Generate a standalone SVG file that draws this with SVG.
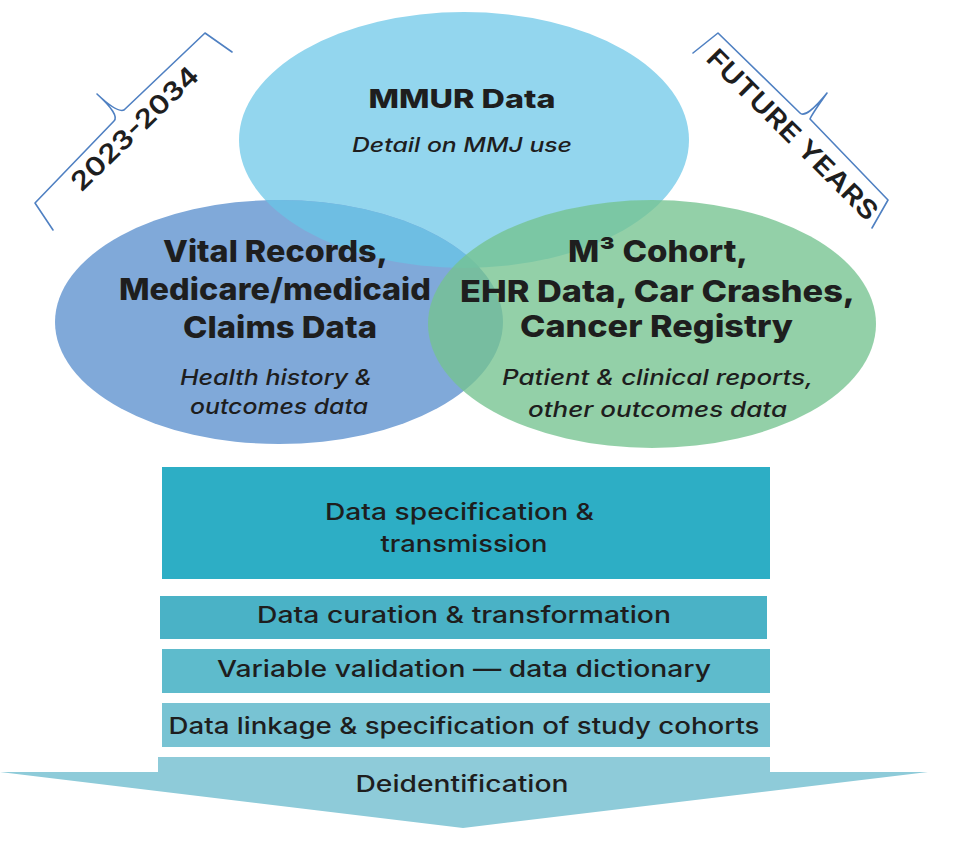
<svg xmlns="http://www.w3.org/2000/svg" width="971" height="842" viewBox="0 0 971 842">
  <defs>
    <clipPath id="clip-vital">
      <ellipse cx="279" cy="322" rx="224" ry="122"/>
    </clipPath>
    <style>
      .head { font-family: Inter, "DejaVu Sans", sans-serif; font-weight: 800; fill: #1e1e1e; text-anchor: middle; }
      .sub { font-family: Inter, "DejaVu Sans", sans-serif; font-style: italic; font-weight: 500; fill: #1e1e1e; text-anchor: middle; }
      .step { font-family: Inter, "DejaVu Sans", sans-serif; font-weight: 500; fill: #1e1e1e; text-anchor: middle; font-size: 23px; }
      .tag { font-family: Inter, "DejaVu Sans", sans-serif; font-weight: 600; fill: #1e1e1e; text-anchor: middle; font-size: 26px; }
      .brace { fill: none; stroke: #4f80c2; stroke-width: 1.6; stroke-linejoin: round; stroke-linecap: round; }
    </style>
  </defs>
  <rect width="971" height="842" fill="#ffffff"/>

  <!-- Period brackets -->
  <g id="bracket-2023">
    <path class="brace" d="M53,230 L35,203 L114,121 Q120,115 97,94 Q117,113 124,110 L205,33 L232,52"/>
    <text class="tag" x="141" y="135" transform="rotate(-44 141 135)" textLength="166" lengthAdjust="spacingAndGlyphs">2023-2034</text>
  </g>
  <g id="bracket-future">
    <path class="brace" d="M693,53 L718,33 L800,113 Q806,119 827,93 Q812,114 810,119 L888,200 L872,228"/>
    <text class="tag" x="786" y="141" transform="rotate(45 786 141)" textLength="230" lengthAdjust="spacingAndGlyphs">FUTURE YEARS</text>
  </g>

  <!-- Venn nodes -->
  <g id="node-mmur">
    <ellipse cx="464" cy="140" rx="225" ry="128" fill="#93d6ee"/>
    <text class="head" x="462" y="108" font-size="26" textLength="187" lengthAdjust="spacingAndGlyphs">MMUR Data</text>
    <text class="sub" x="462" y="152" font-size="20" textLength="220" lengthAdjust="spacingAndGlyphs">Detail on MMJ use</text>
  </g>
  <g id="node-vital">
    <ellipse cx="279" cy="322" rx="224" ry="122" fill="#80a9d9"/>
    <ellipse cx="464" cy="140" rx="225" ry="128" fill="#6ebee3" clip-path="url(#clip-vital)"/>
    <text class="head" x="275.5" y="262" font-size="30" textLength="225" lengthAdjust="spacingAndGlyphs">Vital Records,</text>
    <text class="head" x="275" y="300" font-size="30" textLength="312" lengthAdjust="spacingAndGlyphs">Medicare/medicaid</text>
    <text class="head" x="280" y="338" font-size="30" textLength="194" lengthAdjust="spacingAndGlyphs">Claims Data</text>
    <text class="sub" x="276" y="385" font-size="21" textLength="192" lengthAdjust="spacingAndGlyphs">Health history &amp;</text>
    <text class="sub" x="279" y="414" font-size="21" textLength="178" lengthAdjust="spacingAndGlyphs">outcomes data</text>
  </g>
  <g id="node-cohort">
    <ellipse cx="652" cy="324" rx="224" ry="124" fill="#75c390" fill-opacity="0.78"/>
    <text class="head" x="658" y="262" font-size="30" textLength="180" lengthAdjust="spacingAndGlyphs">M³ Cohort,</text>
    <text class="head" x="657.5" y="302" font-size="30" textLength="395" lengthAdjust="spacingAndGlyphs">EHR Data, Car Crashes,</text>
    <text class="head" x="656.5" y="337" font-size="30" textLength="273" lengthAdjust="spacingAndGlyphs">Cancer Registry</text>
    <text class="sub" x="657.5" y="385" font-size="21" textLength="311" lengthAdjust="spacingAndGlyphs">Patient &amp; clinical reports,</text>
    <text class="sub" x="657.5" y="417" font-size="21" textLength="259" lengthAdjust="spacingAndGlyphs">other outcomes data</text>
  </g>

  <!-- Process steps -->
  <g id="step-transmission">
    <rect x="162" y="467" width="608" height="112" fill="#2daec5"/>
    <text class="step" x="459.5" y="520" textLength="269" lengthAdjust="spacingAndGlyphs">Data specification &amp;</text>
    <text class="step" x="464" y="552" textLength="167" lengthAdjust="spacingAndGlyphs">transmission</text>
  </g>
  <g id="step-curation">
    <rect x="160" y="596" width="607" height="43" fill="#4ab2c6"/>
    <text class="step" x="464" y="623" textLength="414" lengthAdjust="spacingAndGlyphs">Data curation &amp; transformation</text>
  </g>
  <g id="step-validation">
    <rect x="162" y="649" width="608" height="44" fill="#5ebbcc"/>
    <text class="step" x="464" y="677" textLength="494" lengthAdjust="spacingAndGlyphs">Variable validation — data dictionary</text>
  </g>
  <g id="step-linkage">
    <rect x="162" y="703" width="608" height="44" fill="#78c3d3"/>
    <text class="step" x="464" y="734" textLength="591" lengthAdjust="spacingAndGlyphs">Data linkage &amp; specification of study cohorts</text>
  </g>
  <g id="step-deidentification">
    <polygon points="158,757 770,757 770,772 928,772 463,828 0,772 158,772" fill="#8ecbd9"/>
    <text class="step" x="462" y="792" textLength="213" lengthAdjust="spacingAndGlyphs">Deidentification</text>
  </g>

  <g id="connectors"></g>
</svg>
